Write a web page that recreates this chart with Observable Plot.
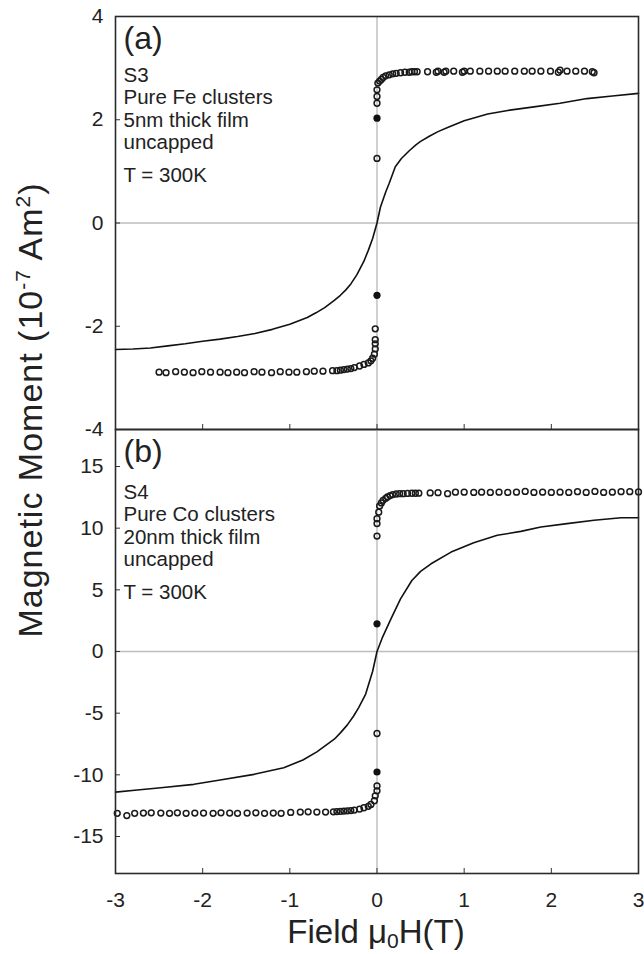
<!DOCTYPE html>
<html>
<head>
<meta charset="utf-8">
<script src="https://cdn.jsdelivr.net/npm/d3@7"></script>
<script src="https://cdn.jsdelivr.net/npm/@observablehq/plot@0.6"></script>
<style>
  html, body { margin: 0; padding: 0; background: white; }
  #wrap { position: relative; width: 644px; height: 954px; background: white; overflow: hidden; }
  #wrap > svg { position: absolute; left: 0; }
</style>
</head>
<body>
<div id="wrap"></div>
<script>
// ---------- tick values ----------
const xTicks = [-3, -2, -1, 0, 1, 2, 3];
const yTicksA = [-4, -2, 0, 2, 4];
const yTicksB = [-15, -10, -5, 0, 5, 10, 15];

// ---------- panel (a): Fe clusters ----------
const lineA_x = [-3.0, -2.8, -2.6, -2.4, -2.2, -2.0, -1.8, -1.6, -1.4, -1.2, -1.0, -0.8, -0.7, -0.6, -0.49, -0.42, -0.36, -0.30, -0.23, -0.15, -0.1, -0.05, 0, 0.04, 0.1, 0.14, 0.21, 0.28, 0.37, 0.45, 0.5, 0.6, 0.7, 0.81, 1.0, 1.27, 1.5, 1.8, 2.1, 2.41, 2.7, 3.0];
const lineA_y = [-2.45, -2.44, -2.42, -2.38, -2.34, -2.29, -2.25, -2.20, -2.14, -2.06, -1.96, -1.83, -1.74, -1.64, -1.50, -1.40, -1.30, -1.18, -1.00, -0.74, -0.53, -0.30, 0.0, 0.31, 0.60, 0.77, 1.09, 1.25, 1.40, 1.52, 1.58, 1.68, 1.77, 1.85, 1.98, 2.11, 2.18, 2.25, 2.32, 2.41, 2.46, 2.51];

const openA_x = [0, 0, 0, 0, 0.01, 0.03, 0.05, 0.07, 0.1, 0.14, 0.18, 0.22, 0.27, 0.32, 0.37, 0.40, 0.43, 0.46,
  0.58, 0.68, 0.70, 0.77, 0.79, 0.88, 0.98, 1.00, 1.07, 1.18, 1.28, 1.38, 1.47, 1.58, 1.69, 1.78, 1.88, 1.99, 2.08, 2.10, 2.18, 2.28, 2.38, 2.47, 2.49,
  -0.02, -0.02, -0.02, -0.02, -0.03, -0.05, -0.07, -0.10, -0.15, -0.20, -0.26, -0.30, -0.34, -0.38, -0.42, -0.46, -0.51,
  -0.62, -0.72, -0.81, -0.92, -1.01, -1.11, -1.21, -1.32, -1.41, -1.52, -1.61, -1.71, -1.80, -1.91, -2.01, -2.11, -2.21, -2.31, -2.42, -2.50];
const openA_y = [1.25, 2.32, 2.45, 2.58, 2.71, 2.75, 2.78, 2.82, 2.85, 2.87, 2.89, 2.90, 2.91, 2.92, 2.92, 2.93, 2.93, 2.93,
  2.93, 2.92, 2.94, 2.92, 2.94, 2.94, 2.92, 2.94, 2.94, 2.94, 2.94, 2.94, 2.94, 2.94, 2.94, 2.94, 2.94, 2.94, 2.92, 2.96, 2.94, 2.94, 2.94, 2.93, 2.91,
  -2.05, -2.26, -2.34, -2.44, -2.54, -2.62, -2.67, -2.71, -2.74, -2.77, -2.80, -2.82, -2.83, -2.84, -2.85, -2.86, -2.86,
  -2.87, -2.87, -2.88, -2.89, -2.89, -2.88, -2.90, -2.89, -2.88, -2.90, -2.89, -2.90, -2.89, -2.89, -2.88, -2.90, -2.89, -2.88, -2.90, -2.89];
const filledA_x = [0, 0];
const filledA_y = [2.03, -1.40];

// ---------- panel (b): Co clusters ----------
const lineB_x = [-3.0, -2.75, -2.48, -2.1, -1.8, -1.41, -1.07, -0.85, -0.69, -0.49, -0.42, -0.34, -0.27, -0.21, -0.13, -0.05, 0, 0.06, 0.16, 0.27, 0.40, 0.5, 0.62, 0.85, 1.11, 1.38, 1.65, 1.88, 2.18, 2.49, 2.80, 3.0];
const lineB_y = [-11.40, -11.23, -11.05, -10.77, -10.42, -9.96, -9.42, -8.80, -8.14, -7.11, -6.60, -5.95, -5.25, -4.55, -3.45, -1.60, 0.0, 1.10, 2.64, 4.27, 5.76, 6.50, 7.11, 8.06, 8.82, 9.42, 9.74, 10.10, 10.37, 10.64, 10.85, 10.85];

const openB_x = [0, 0, 0, 0.02, 0.03, 0.05, 0.07, 0.10, 0.12, 0.15, 0.18, 0.22, 0.26, 0.30, 0.35, 0.40, 0.44, 0.48,
  0.61, 0.70, 0.81, 0.90, 1.00, 1.11, 1.20, 1.30, 1.40, 1.50, 1.60, 1.70, 1.80, 1.90, 2.00, 2.10, 2.20, 2.30, 2.40, 2.50, 2.60, 2.70, 2.80, 2.90, 3.00,
  0, 0, 0, -0.02, -0.03, -0.07, -0.10, -0.15, -0.20, -0.26, -0.30, -0.34, -0.38, -0.42, -0.46, -0.50,
  -0.59, -0.69, -0.79, -0.88, -0.99, -1.10, -1.19, -1.29, -1.39, -1.49, -1.60, -1.69, -1.79, -1.88, -1.99, -2.09, -2.19, -2.29, -2.38, -2.48, -2.59, -2.68, -2.78, -2.87, -2.98];
const openB_y = [9.36, 10.37, 10.77, 11.30, 11.80, 12.05, 12.26, 12.42, 12.53, 12.64, 12.72, 12.77, 12.80, 12.80, 12.82, 12.83, 12.83, 12.84,
  12.86, 12.88, 12.80, 12.92, 12.92, 12.90, 12.92, 12.90, 12.92, 12.90, 12.92, 12.98, 12.90, 12.92, 12.90, 12.92, 12.90, 12.96, 12.90, 12.98, 12.90, 12.92, 12.96, 12.96, 12.94,
  -6.65, -10.90, -11.30, -11.70, -12.10, -12.40, -12.55, -12.67, -12.78, -12.86, -12.90, -12.92, -12.94, -12.96, -12.98, -13.00,
  -13.02, -13.02, -13.00, -13.02, -13.05, -13.12, -13.10, -13.12, -13.08, -13.10, -13.12, -13.10, -13.08, -13.12, -13.10, -13.10, -13.12, -13.08, -13.12, -13.10, -13.08, -13.10, -13.12, -13.30, -13.12];
const filledB_x = [0, 0];
const filledB_y = [2.24, -9.77];

// ---------- labels ----------
const panelA_tag = "(a)";
const panelA_lines = ["S3", "Pure Fe clusters", "5nm thick film", "uncapped"];
const panelB_tag = "(b)";
const panelB_lines = ["S4", "Pure Co clusters", "20nm thick film", "uncapped"];
const tempLabel = "T = 300K";

// ---------- helpers ----------
const zip = (xs, ys) => xs.map((x, i) => ({x, y: ys[i]}));
const font = "'Liberation Sans', Arial, Helvetica, sans-serif";
const fmt = d => String(d);

function panel({lineX, lineY, openX, openY, filledX, filledY, yDomain, yTicks, tag, lines, height, marginTop, marginBottom, showXLabels, textTop}) {
  return Plot.plot({
    width: 644,
    height,
    marginTop,
    marginBottom,
    marginLeft: 115,
    marginRight: 6,
    style: {background: "transparent", fontFamily: font, fontSize: "21px", color: "#222"},
    x: {domain: [-3, 3]},
    y: {domain: yDomain},
    marks: [
      Plot.ruleY([0], {stroke: "#bdbdbd", strokeWidth: 1.4}),
      Plot.ruleX([0], {stroke: "#bdbdbd", strokeWidth: 1.4}),
      Plot.line(zip(lineX, lineY), {x: "x", y: "y", stroke: "#111", strokeWidth: 1.6}),
      Plot.dot(zip(openX, openY), {x: "x", y: "y", r: 2.9, stroke: "#1a1a1a", strokeWidth: 1.5, fill: "none"}),
      Plot.dot(zip(filledX, filledY), {x: "x", y: "y", r: 3.6, fill: "#111", stroke: "none"}),
      Plot.axisX(xTicks, {anchor: "bottom", tickSize: -5, tickPadding: 24, tickFormat: showXLabels ? fmt : () => "", label: null, stroke: "#333", fontSize: 21}),
      Plot.axisY(yTicks, {anchor: "left", tickSize: -5, tickPadding: 17, tickFormat: fmt, label: null, stroke: "#333", fontSize: 21}),
      Plot.frame({stroke: "#2a2a2a", strokeWidth: 1.6}),
      Plot.text([tag], {frameAnchor: "top-left", dx: 8, dy: 10, lineAnchor: "top", fontSize: 32, fill: "#222"}),
      Plot.text([lines.join("\n")], {frameAnchor: "top-left", dx: 8, dy: textTop, lineAnchor: "top", lineHeight: 1.1, fontSize: 20.5, fill: "#222"}),
      Plot.text([tempLabel], {frameAnchor: "top-left", dx: 8, dy: textTop + 102, lineAnchor: "top", fontSize: 20.5, fill: "#222"})
    ]
  });
}

const wrap = document.getElementById("wrap");

const svgA = panel({
  lineX: lineA_x, lineY: lineA_y, openX: openA_x, openY: openA_y, filledX: filledA_x, filledY: filledA_y,
  yDomain: [-4, 4], yTicks: yTicksA, tag: panelA_tag, lines: panelA_lines,
  height: 445, marginTop: 16, marginBottom: 16, showXLabels: false, textTop: 49
});
svgA.style.top = "0px";
wrap.appendChild(svgA);

const svgB = panel({
  lineX: lineB_x, lineY: lineB_y, openX: openB_x, openY: openB_y, filledX: filledB_x, filledY: filledB_y,
  yDomain: [-18, 18], yTicks: yTicksB, tag: panelB_tag, lines: panelB_lines,
  height: 530, marginTop: 5, marginBottom: 81, showXLabels: true, textTop: 53
});
svgB.style.top = "424px";
wrap.appendChild(svgB);

// ---------- shared axis titles ----------
const overlay = d3.create("svg")
  .attr("width", 644).attr("height", 954)
  .style("position", "absolute").style("left", "0px").style("top", "0px")
  .style("pointer-events", "none")
  .style("font-family", font).style("fill", "#222");

const yt = overlay.append("text")
  .attr("transform", "translate(42,410) rotate(-90)")
  .attr("text-anchor", "middle")
  .attr("letter-spacing", 1)
  .attr("font-size", 34);
yt.append("tspan").text("Magnetic Moment (10");
yt.append("tspan").attr("dy", -12).attr("font-size", 21).text("-7");
yt.append("tspan").attr("dy", 12).text(" Am");
yt.append("tspan").attr("dy", -12).attr("font-size", 21).text("2");
yt.append("tspan").attr("dy", 12).text(")");

const xt = overlay.append("text")
  .attr("x", 376).attr("y", 943)
  .attr("text-anchor", "middle")
  .attr("font-size", 33);
xt.append("tspan").text("Field \u03bc");
xt.append("tspan").attr("dy", 5).attr("font-size", 21).text("0");
xt.append("tspan").attr("dy", -5).text("H(T)");

wrap.appendChild(overlay.node());
</script>
</body>
</html>
